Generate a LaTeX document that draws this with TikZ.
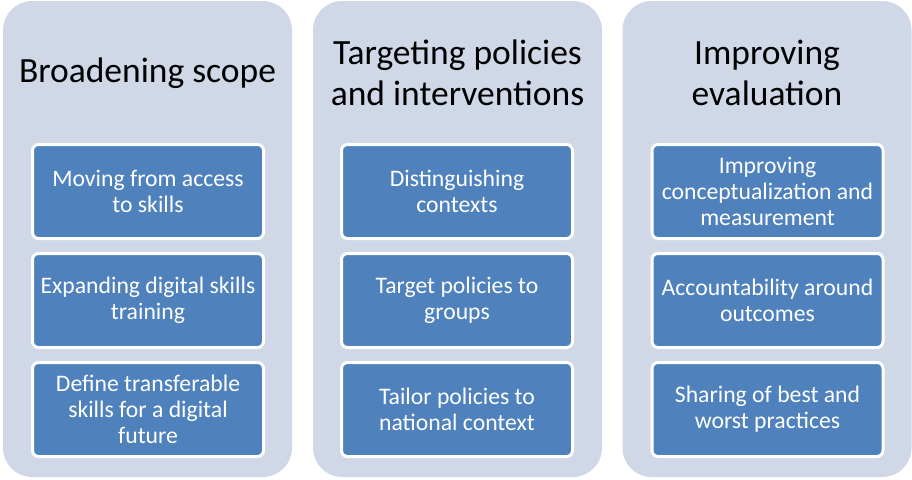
\documentclass[tikz,border=0pt]{standalone}
\usepackage{fontspec}
\setmainfont{Carlito}
\definecolor{colbg}{HTML}{D0D8E8}
\definecolor{boxblue}{HTML}{4F81BD}
\tikzset{
  column/.style={fill=colbg, rounded corners=29pt, minimum width=289pt, minimum height=476pt, inner sep=0pt},
  title/.style={text=black, align=center, font=\fontsize{35.5}{41}\selectfont, inner sep=0pt},
  itembox/.style={fill=boxblue, draw=white, line width=3pt, rounded corners=6pt, minimum width=231pt, minimum height=94pt, text=white, align=center, font=\fontsize{23.7}{26}\selectfont, inner sep=0pt}
}
\begin{document}
\begin{tikzpicture}[x=1pt,y=-1pt]
\useasboundingbox (0,0) rectangle (912,479);
\node[column] (c1) at (147.5,239) {};
\node[column] (c2) at (457.5,239) {};
\node[column] (c3) at (767,239) {};
\node[title] (t1) at (147.5,73) {Broadening scope};
\node[title] (t2) at (457.5,73) {Targeting policies\\and interventions};
\node[title] (t3) at (767,73) {Improving\\evaluation};
\node[itembox] (a1) at (148,191.5) {Moving from access\\to skills};
\node[itembox] (a2) at (148,300.5) {Expanding digital skills\\training};
\node[itembox] (a3) at (148,409.5) {Define transferable\\skills for a digital\\future};
\node[itembox] (b1) at (457,191.5) {Distinguishing\\contexts};
\node[itembox] (b2) at (457,300.5) {Target policies to\\groups};
\node[itembox] (b3) at (457,409.5) {Tailor policies to\\national context};
\node[itembox] (d1) at (767.5,191.5) {Improving\\conceptualization and\\measurement};
\node[itembox] (d2) at (767.5,300.5) {Accountability around\\outcomes};
\node[itembox] (d3) at (767.5,409.5) {Sharing of best and\\worst practices};
\end{tikzpicture}
\end{document}
